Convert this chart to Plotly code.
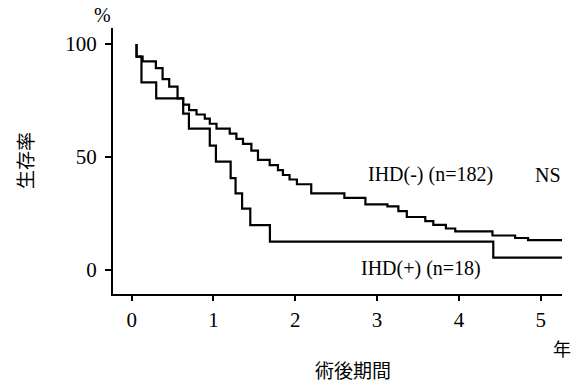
import plotly.graph_objects as go

# IHD(-) (n=182): step times (years) and survival (%) after each step
t_neg = [0.06, 0.06, 0.134, 0.296, 0.378, 0.459, 0.561, 0.629, 0.702, 0.793, 0.894,
         0.955, 1.037, 1.199, 1.28, 1.361, 1.463, 1.544, 1.687, 1.788, 1.849, 1.93,
         2.02, 2.195, 2.60, 2.857, 3.126, 3.26, 3.363, 3.589, 3.687, 3.841, 3.955,
         4.41, 4.687, 4.845, 5.26]
s_neg = [100, 94.4, 92.3, 89.3, 84.5, 81.1, 75.9, 73.2, 70.7, 68.8, 67.0,
         64.7, 62.5, 60.3, 58.0, 55.8, 52.8, 48.7, 46.4, 44.2, 42.0, 40.0,
         37.9, 33.9, 31.9, 29.0, 28.1, 26.0, 23.4, 21.6, 19.9, 18.3, 17.0,
         15.2, 14.1, 13.2, 13.2]

# IHD(+) (n=18)
t_pos = [0.06, 0.06, 0.12, 0.30, 0.63, 0.70, 0.955, 1.03, 1.21, 1.27, 1.35, 1.45,
         1.69, 4.42, 5.26]
s_pos = [100, 94.4, 83.0, 75.9, 69.2, 62.5, 55.0, 47.9, 40.6, 33.9, 27.1, 19.8,
         12.5, 5.4, 5.4]

x_ticks = [0, 1, 2, 3, 4, 5]
y_ticks = [0, 50, 100]

SERIF = "Liberation Serif, Times New Roman, serif"
CJK = "Noto Sans CJK JP"

fig = go.Figure()
fig.add_trace(go.Scatter(x=t_neg, y=s_neg, mode="lines", line_shape="hv",
                         line=dict(color="black", width=2.2), showlegend=False,
                         cliponaxis=False))
fig.add_trace(go.Scatter(x=t_pos, y=s_pos, mode="lines", line_shape="hv",
                         line=dict(color="black", width=2.2), showlegend=False,
                         cliponaxis=False))

# plot area in pixels: x 113..562, y 28..294
L, R, T, B = 113, 562, 28, 294
def px(x):
    return (x - L) / (R - L)
def py(y):
    return (B - y) / (B - T)

ann = [
    dict(text="IHD(-) (n=182)", x=px(430), y=py(175), font=dict(family=SERIF, size=20)),
    dict(text="NS", x=px(548), y=py(175), font=dict(family=SERIF, size=20)),
    dict(text="IHD(+) (n=18)", x=px(421), y=py(268), font=dict(family=SERIF, size=20)),
    dict(text="%", x=px(102), y=py(15), font=dict(family=SERIF, size=20)),
    dict(text="年", x=px(562), y=py(348), font=dict(family=CJK, size=18)),
    dict(text="術後期間", x=px(353), y=py(369), font=dict(family=CJK, size=19)),
    dict(text="生存率", x=px(24), y=py(161), textangle=-90, font=dict(family=CJK, size=19)),
]
for a in ann:
    fig.add_annotation(xref="paper", yref="paper", showarrow=False,
                       xanchor="center", yanchor="middle",
                       font_color="black", **a)

fig.update_layout(
    width=584, height=383,
    margin=dict(l=L, r=584 - R, t=T, b=383 - B),
    paper_bgcolor="white", plot_bgcolor="white",
    xaxis=dict(range=[-0.228, 5.26], tickvals=x_ticks, ticktext=[str(v) for v in x_ticks],
               showline=True, linecolor="black", linewidth=2, showgrid=False,
               zeroline=False, ticks="outside", ticklen=5, tickwidth=2,
               tickcolor="black", ticklabelstandoff=1,
               tickfont=dict(family=SERIF, size=21, color="black")),
    yaxis=dict(range=[-10.7, 107.1], tickvals=y_ticks, ticktext=[str(v) for v in y_ticks],
               showline=True, linecolor="black", linewidth=2, showgrid=False,
               zeroline=False, ticks="outside", ticklen=6, tickwidth=2,
               tickcolor="black", ticklabelstandoff=4,
               tickfont=dict(family=SERIF, size=21, color="black")),
)

fig.write_html("out.html", config={"displayModeBar": False},
               post_script="document.body.style.margin='0';document.body.style.overflow='hidden';")
